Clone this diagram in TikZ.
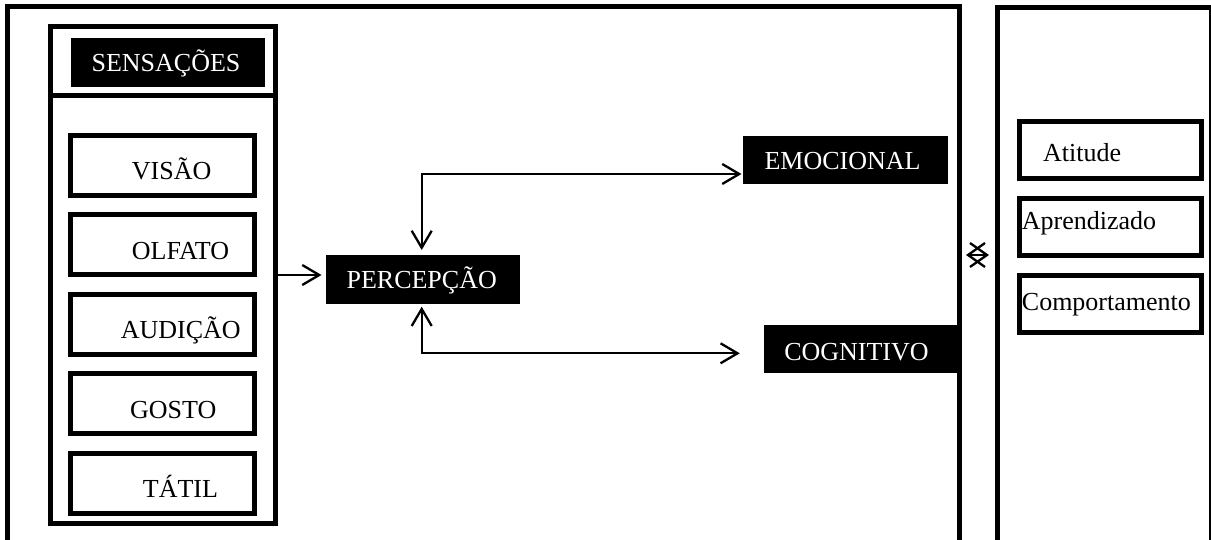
\documentclass[tikz,border=0pt]{standalone}
\usepackage{fontspec}
\setmainfont{Liberation Serif}
\usetikzlibrary{arrows.meta}
\begin{document}
\begin{tikzpicture}[x=1pt,y=-1pt,
  frame/.style={draw,line width=5pt,inner sep=0pt,outer sep=0pt,rectangle},
  senbox/.style={draw,line width=5pt,inner sep=0pt,rectangle,minimum width=184pt,minimum height=60pt},
  rbox/.style={draw,line width=5pt,inner sep=0pt,rectangle,minimum width=182.3pt,minimum height=57pt},
  blackbox/.style={fill=black,inner sep=0pt,rectangle},
  lbl/.style={font=\fontsize{26}{30}\selectfont,inner sep=0pt,anchor=base west},
  wlbl/.style={font=\fontsize{26}{30}\selectfont,inner sep=0pt,anchor=base,text=white},
  conn/.style={line width=2pt},
  >={Straight Barb[length=17pt,width=20pt,line width=2.3pt]},
]
\useasboundingbox (0,0) rectangle (1211,540);
\clip (0,0) rectangle (1211,540);
\fill[white] (0,0) rectangle (1211,540);

% outer frames (extend below the picture)
\node[frame,minimum width=951.5pt,minimum height=600pt] (leftframe) at (483.25,306.5) {};
\node[frame,minimum width=213.5pt,minimum height=600pt] (rightframe) at (1104.25,307.5) {};

% sensations column
\node[frame,minimum width=224.5pt,minimum height=496.5pt] (sens) at (162.75,274.75) {};
\coordinate (divl) at (50.5,95.5);
\coordinate (divr) at (275,95.5);
\draw[line width=5pt] (divl) -- (divr);
\node[blackbox,minimum width=194.3pt,minimum height=48.4pt] (sensbox) at (167.85,62.5) {};
\node[wlbl] (sensT) at (166,72) {SENSAÇÕES};

\node[senbox] (visao) at (162.5,165.5) {};
\node[senbox] (olfato) at (162.5,245) {};
\node[senbox] (audicao) at (162.5,324.5) {};
\node[senbox] (gosto) at (162.5,403.5) {};
\node[senbox] (tatil) at (162.5,483) {};
\node[lbl] (visaoT) at (131.7,180) {VISÃO};
\node[lbl] (olfatoT) at (131.7,259.3) {OLFATO};
\node[lbl] (audicaoT) at (120.7,338.3) {AUDIÇÃO};
\node[lbl] (gostoT) at (130,418) {GOSTO};
\node[lbl] (tatilT) at (142.7,497) {TÁTIL};

% centre boxes
\node[blackbox,minimum width=194pt,minimum height=49pt] (percepcao) at (423,279.5) {};
\node[wlbl] (percepcaoT) at (421.7,288.3) {PERCEPÇÃO};
\node[blackbox,minimum width=205pt,minimum height=48.3pt] (emocional) at (845.5,160.2) {};
\node[wlbl] (emocionalT) at (842.5,170) {EMOCIONAL};
\node[blackbox,minimum width=194pt,minimum height=48.3pt] (cognitivo) at (861,349.2) {};
\node[wlbl] (cognitivoT) at (856.5,360) {COGNITIVO};

% connectors
\coordinate (s1) at (277.5,275);
\draw[conn,->,shorten >=4.3pt] (s1) -- (s1 -| percepcao.west);
\coordinate (u1) at (421.7,174);
\coordinate (u0) at (421.7,255);
\draw[conn,<->,shorten <=5pt,shorten >=1.3pt] (u0) -- (u1) -- (u1 -| emocional.west);
\coordinate (l1) at (421.7,353.3);
\coordinate (l0) at (421.7,304);
\draw[conn,<->,shorten <=2.7pt,shorten >=24pt] (l0) -- (l1) -- (l1 -| cognitivo.west);

% double arrow between frames
\coordinate (dl) at (968,255);
\coordinate (dr) at (987,255);
\coordinate (gtu) at (970,243);
\coordinate (gtd) at (970,267);
\coordinate (ltu) at (985,243);
\coordinate (ltd) at (985,267);
\draw[line width=2.3pt] (gtu) -- (dr) -- (gtd);
\draw[line width=2.3pt] (ltu) -- (dl) -- (ltd);
\draw[line width=2.3pt] (dl) -- (dr);

% right column
\node[rbox] (atitude) at (1110.4,150.5) {};
\node[rbox] (aprend) at (1110.4,227.5) {};
\node[rbox] (comport) at (1110.4,304.2) {};
\node[lbl] (atitudeT) at (1043,161.7) {Atitude};
\node[lbl] (aprendT) at (1021.7,230) {Aprendizado};
\node[lbl] (comportT) at (1021.7,310) {Comportamento};
\end{tikzpicture}
\end{document}
